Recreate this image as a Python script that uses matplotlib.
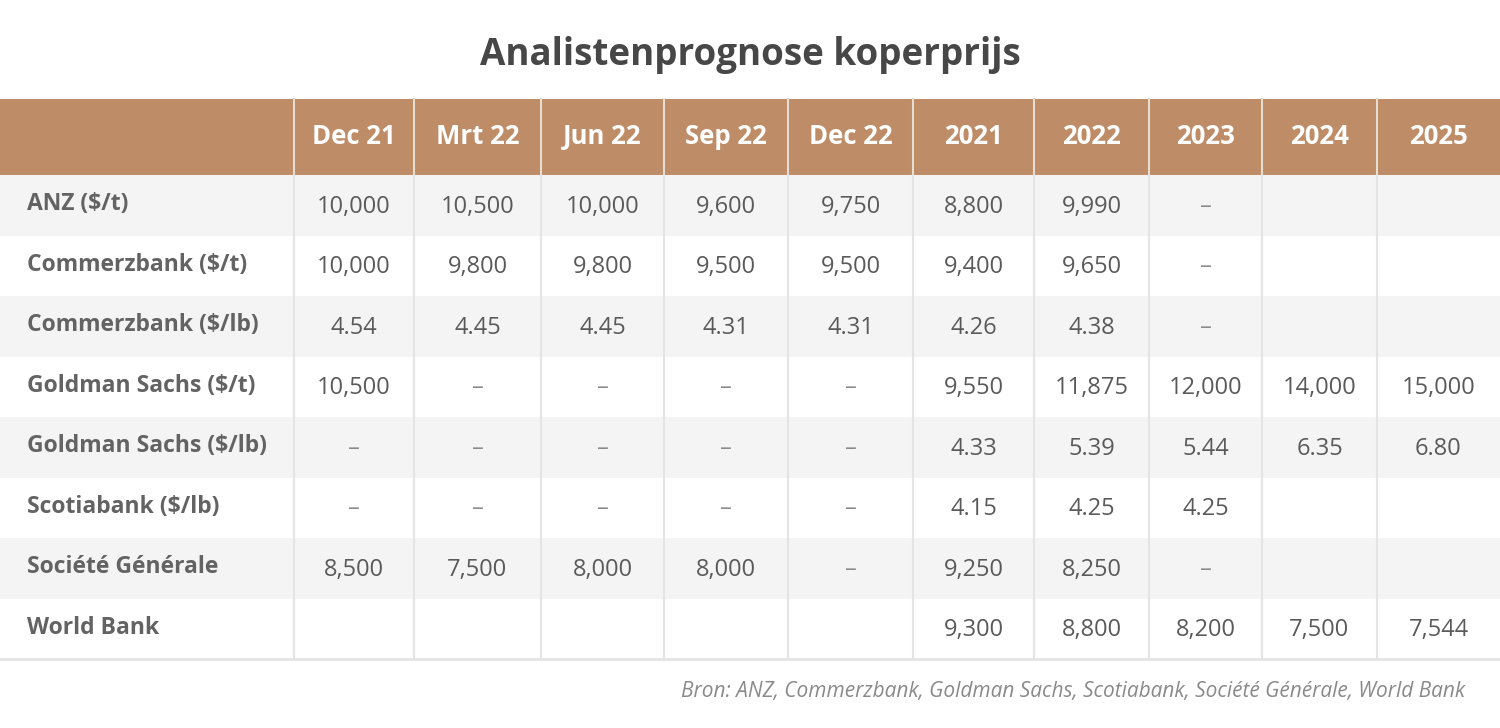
import matplotlib.pyplot as plt
from matplotlib.patches import Rectangle

# ---------------------------------------------------------------
# Data
# ---------------------------------------------------------------
title = "Analistenprognose koperprijs"
source = "Bron: ANZ, Commerzbank, Goldman Sachs, Scotiabank, Société Générale, World Bank"

columns = ["Dec 21", "Mrt 22", "Jun 22", "Sep 22", "Dec 22",
           "2021", "2022", "2023", "2024", "2025"]
row_labels = [
    "ANZ ($/t)",
    "Commerzbank ($/t)",
    "Commerzbank ($/lb)",
    "Goldman Sachs ($/t)",
    "Goldman Sachs ($/lb)",
    "Scotiabank ($/lb)",
    "Société Générale",
    "World Bank",
]
D = "–"
anz = ["10,000", "10,500", "10,000", "9,600", "9,750", "8,800", "9,990", D, "", ""]
commerz_t = ["10,000", "9,800", "9,800", "9,500", "9,500", "9,400", "9,650", D, "", ""]
commerz_lb = ["4.54", "4.45", "4.45", "4.31", "4.31", "4.26", "4.38", D, "", ""]
goldman_t = ["10,500", D, D, D, D, "9,550", "11,875", "12,000", "14,000", "15,000"]
goldman_lb = [D, D, D, D, D, "4.33", "5.39", "5.44", "6.35", "6.80"]
scotia_lb = [D, D, D, D, D, "4.15", "4.25", "4.25", "", ""]
socgen = ["8,500", "7,500", "8,000", "8,000", D, "9,250", "8,250", D, "", ""]
worldbank = ["", "", "", "", "", "9,300", "8,800", "8,200", "7,500", "7,544"]
cells = [anz, commerz_t, commerz_lb, goldman_t, goldman_lb, scotia_lb, socgen, worldbank]

# ---------------------------------------------------------------
# Layout (pixel coordinates)
# ---------------------------------------------------------------
W, H = 1500, 728
col_edges = [0, 294, 414, 541, 664, 788, 913, 1034, 1149, 1262, 1377, 1500]
head_top, head_bot = 99, 175
row_h = 60.5

brown = "#BE8C66"
stripe = "#F4F4F4"
grid = "#E4E4E4"
font = "Open Sans"

fig = plt.figure(figsize=(W / 100, H / 100), dpi=100)
ax = fig.add_axes([0, 0, 1, 1])
ax.set_xlim(0, W)
ax.set_ylim(H, 0)
ax.axis("off")

ax.text(W / 2, 55, title, ha="center", va="center", fontsize=26.5,
        fontweight="bold", color="#474747", family=font)

# header band
ax.add_patch(Rectangle((0, head_top), W, head_bot - head_top, color=brown, lw=0))
for j, name in enumerate(columns):
    xc = (col_edges[j + 1] + col_edges[j + 2]) / 2
    ax.text(xc, (head_top + head_bot) / 2, name, ha="center", va="center",
            fontsize=18.5, fontweight="bold", color="white", family=font)

# body rows
n = len(row_labels)
for i in range(n):
    y0 = head_bot + i * row_h
    if i % 2 == 0:
        ax.add_patch(Rectangle((0, y0), W, row_h, color=stripe, lw=0))
    yc = y0 + row_h / 2
    ax.text(27, yc - 1, row_labels[i], ha="left", va="center", fontsize=16.5,
            fontweight="bold", color="#636363", family=font)
    for j, v in enumerate(cells[i]):
        xc = (col_edges[j + 1] + col_edges[j + 2]) / 2
        col = "#8a8a8a" if v == D else "#5a5a5a"
        ax.text(xc, yc + 1.5, v, ha="center", va="center", fontsize=17,
                color=col, family=font)

body_bot = head_bot + n * row_h
# vertical separators
for x in col_edges[1:-1]:
    ax.plot([x, x], [head_top, head_bot], color="#E9DCD0", lw=1.5)
    ax.plot([x, x], [head_bot, body_bot], color=grid, lw=1.5)
ax.plot([0, W], [body_bot, body_bot], color=grid, lw=2)

ax.text(1465, 692, source, ha="right", va="center", fontsize=15,
        style="italic", color="#8a8a8a", family=font)

fig.savefig("out.png", dpi=100)
